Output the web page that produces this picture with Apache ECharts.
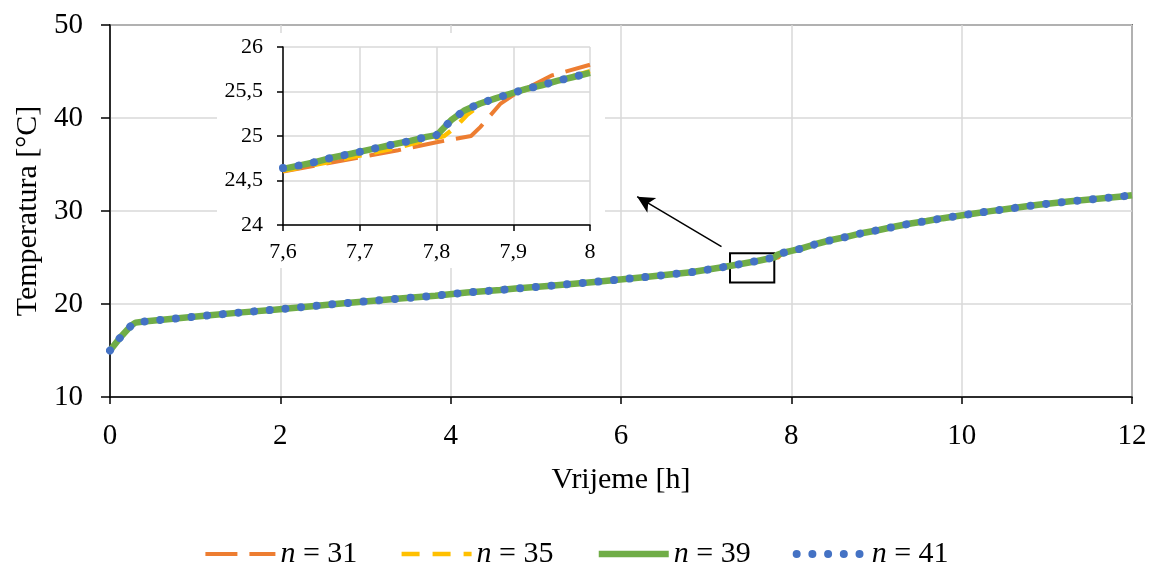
<!DOCTYPE html>
<html>
<head>
<meta charset="utf-8">
<script src="https://cdn.jsdelivr.net/npm/echarts@6/dist/echarts.min.js"></script>
<style>
html,body{margin:0;padding:0;background:#fff;}
#chart{width:1152px;height:568px;}
</style>
</head>
<body>
<div id="chart"></div>
<script>
// ---- Data ----
const seriesNames = ['n = 31', 'n = 35', 'n = 39', 'n = 41'];

// Common main curve (all four runs coincide outside 7.6–8 h)
const timeMain = [0, 0.12, 0.25, 0.3, 0.43, 0.8, 1.17, 1.55, 1.93, 2.31, 2.68, 3.06, 3.44, 3.82, 4.19, 4.58, 4.76, 5.14, 5.69, 6.26, 6.82, 7.19, 7.39,
  8.12, 8.29, 8.47, 8.66, 8.84, 9.03, 9.22, 9.40, 9.59, 9.78, 9.97, 10.15, 10.34, 10.53, 10.72, 10.9, 11.09, 11.28, 11.47, 11.66, 11.85, 12.0];
const tempMain = [15.0, 16.4, 17.7, 18.0, 18.15, 18.46, 18.78, 19.1, 19.39, 19.71, 20.03, 20.32, 20.61, 20.89, 21.24, 21.5, 21.66, 21.94, 22.37, 22.87, 23.41, 23.95, 24.27,
  25.97, 26.45, 26.88, 27.24, 27.64, 27.96, 28.33, 28.65, 28.92, 29.23, 29.49, 29.74, 29.99, 30.22, 30.45, 30.67, 30.86, 31.04, 31.2, 31.38, 31.54, 31.69];

// Detail 7.6–8 h for each run
const timeN31 = [7.6, 7.65, 7.7, 7.75, 7.8, 7.845, 7.857, 7.87, 7.883, 7.9, 7.95, 8.0];
const tempN31 = [24.6, 24.68, 24.76, 24.84, 24.93, 25.0, 25.1, 25.23, 25.36, 25.46, 25.68, 25.8];

const timeN35 = [7.6, 7.65, 7.7, 7.75, 7.78, 7.81, 7.825, 7.84, 7.862, 7.88, 7.9, 7.95, 8.0];
const tempN35 = [24.61, 24.69, 24.78, 24.87, 24.94, 25.0, 25.1, 25.24, 25.38, 25.43, 25.48, 25.6, 25.73];

const timeN39 = [7.6, 7.622, 7.643, 7.663, 7.683, 7.704, 7.725, 7.746, 7.766, 7.787, 7.8, 7.805, 7.82, 7.837, 7.857, 7.876, 7.896, 7.917, 7.937, 7.957, 7.977, 8.0];
const tempN39 = [24.63, 24.67, 24.71, 24.755, 24.79, 24.83, 24.87, 24.91, 24.945, 24.99, 25.01, 25.05, 25.185, 25.29, 25.365, 25.42, 25.475, 25.53, 25.57, 25.62, 25.66, 25.71];

const timeN41 = timeN39.slice();
const tempN41 = [24.64, 24.67, 24.71, 24.755, 24.79, 24.83, 24.87, 24.91, 24.945, 24.99, 25.01, 25.05, 25.185, 25.29, 25.365, 25.42, 25.475, 25.53, 25.57, 25.62, 25.66, 25.71];

// Main axis ticks / inset axis ranges
const mainX = {min: 0, max: 12, interval: 2};
const mainY = {min: 10, max: 50, interval: 10};
const insetX = {min: 7.6, max: 8, interval: 0.1};
const insetY = {min: 24, max: 26, interval: 0.5};

// Annotation: zoom box and arrow (data coordinates)
const zoomBox = [[7.28, 25.45], [7.8, 22.3]];
const arrowLine = [[7.18, 26.16], [6.19, 31.54]];

// ---- Build ----
function pairs(t, v) { return t.map((x, i) => [x, v[i]]); }
function mergeMain(tDetail, vDetail) {
  const base = pairs(timeMain, tempMain).filter(p => p[0] < insetX.min || p[0] > insetX.max);
  return base.concat(pairs(tDetail, vDetail)).sort((a, b) => a[0] - b[0]);
}
const detail = [[timeN31, tempN31], [timeN35, tempN35], [timeN39, tempN39], [timeN41, tempN41]];

const FONT = 'Liberation Serif';
const styles = [
  {color: '#ED7D31', width: 4, type: [32, 12], cap: 'butt'},
  {color: '#FFC000', width: 4.5, type: [18, 13], cap: 'butt'},
  {color: '#70AD47', width: 6.5, type: 'solid', cap: 'butt'},
  {color: '#4472C4', width: 8, type: [0.01, 15.7], cap: 'round'}
];

function lineStyleOf(i) {
  return {color: styles[i].color, width: styles[i].width, type: styles[i].type, cap: styles[i].cap, join: 'round', opacity: 1};
}

const series = [];
seriesNames.forEach((name, i) => {
  const s = {
    name: name, type: 'line', xAxisIndex: 0, yAxisIndex: 0,
    data: mergeMain(detail[i][0], detail[i][1]),
    symbol: 'none', showSymbol: false, smooth: false,
    color: styles[i].color,
    lineStyle: lineStyleOf(i),
    z: 2 + i, animation: false
  };
  if (i === 3) {
    s.markArea = {
      silent: true,
      itemStyle: {color: 'rgba(0,0,0,0)', borderColor: '#000', borderWidth: 2},
      data: [[{coord: zoomBox[0]}, {coord: zoomBox[1]}]]
    };
    s.markLine = {
      silent: true, symbol: ['none', 'arrow'], symbolSize: [13, 17],
      label: {show: false},
      lineStyle: {color: '#000', width: 1.5, type: 'solid'},
      data: [[{coord: arrowLine[0]}, {coord: arrowLine[1]}]]
    };
  }
  series.push(s);
});
seriesNames.forEach((name, i) => {
  series.push({
    name: name, type: 'line', xAxisIndex: 1, yAxisIndex: 1,
    data: pairs(detail[i][0], detail[i][1]),
    symbol: 'none', showSymbol: false, smooth: false,
    color: styles[i].color,
    lineStyle: lineStyleOf(i),
    z: 10 + i, animation: false, clip: true
  });
});

function commaFmt(v) { return String(Math.round(v * 10) / 10).replace('.', ','); }

const option = {
  animation: false,
  backgroundColor: '#fff',
  textStyle: {fontFamily: FONT, color: '#000'},
  grid: [
    {left: 110, right: 20, top: 25, bottom: 171, show: true, borderColor: '#000', borderWidth: 1.5, backgroundColor: 'transparent'},
    {left: 283, right: 562, top: 47, bottom: 343}
  ],
  graphic: [{
    type: 'rect', z: 7, silent: true,
    shape: {x: 217, y: 33, width: 388, height: 235},
    style: {fill: '#fff'}
  }],
  xAxis: [
    {type: 'value', gridIndex: 0, min: mainX.min, max: mainX.max, interval: mainX.interval,
     name: 'Vrijeme [h]', nameLocation: 'middle', nameGap: 68,
     nameTextStyle: {fontFamily: FONT, fontSize: 30, color: '#000'},
     axisLine: {show: true, onZero: false, lineStyle: {color: '#000', width: 1.5}},
     axisTick: {show: true, length: 7, lineStyle: {color: '#000', width: 1.5}},
     axisLabel: {fontFamily: FONT, fontSize: 29, color: '#000', margin: 25},
     splitLine: {show: true, lineStyle: {color: '#d9d9d9', width: 1.5}}},
    {type: 'value', gridIndex: 1, min: insetX.min, max: insetX.max, interval: insetX.interval, z: 9,
     axisLine: {show: true, onZero: false, lineStyle: {color: '#000', width: 1.5}},
     axisTick: {show: true, length: 6, lineStyle: {color: '#000', width: 1.5}},
     axisLabel: {fontFamily: FONT, fontSize: 22, color: '#000', margin: 16, formatter: commaFmt},
     splitLine: {show: true, lineStyle: {color: '#d9d9d9', width: 1.5}}}
  ],
  yAxis: [
    {type: 'value', gridIndex: 0, min: mainY.min, max: mainY.max, interval: mainY.interval,
     name: 'Temperatura [°C]', nameLocation: 'middle', nameGap: 67, nameRotate: 90,
     nameTextStyle: {fontFamily: FONT, fontSize: 30, color: '#000'},
     axisLine: {show: true, onZero: false, lineStyle: {color: '#000', width: 1.5}},
     axisTick: {show: true, length: 9, lineStyle: {color: '#000', width: 1.5}},
     axisLabel: {fontFamily: FONT, fontSize: 29, color: '#000', margin: 27},
     splitLine: {show: true, lineStyle: {color: '#d9d9d9', width: 1.5}}},
    {type: 'value', gridIndex: 1, min: insetY.min, max: insetY.max, interval: insetY.interval, z: 9,
     axisLine: {show: true, onZero: false, lineStyle: {color: '#000', width: 1.5}},
     axisTick: {show: true, length: 6, lineStyle: {color: '#000', width: 1.5}},
     axisLabel: {fontFamily: FONT, fontSize: 22, color: '#000', margin: 20, formatter: commaFmt},
     splitLine: {show: true, lineStyle: {color: '#d9d9d9', width: 1.5}}}
  ],
  legend: {
    data: seriesNames.map((n, i) => ({
      name: n,
      lineStyle: lineStyleOf(i),
      itemStyle: {color: 'rgba(0,0,0,0)', borderWidth: 0, opacity: 0}
    })),
    left: 'center', top: 534,
    itemWidth: 70, itemHeight: 24, itemGap: 42,
    textStyle: {fontFamily: FONT, fontSize: 30, color: '#000',
      rich: {
        i: {fontFamily: FONT, fontStyle: 'italic', fontSize: 30, color: '#000'},
        t: {fontFamily: FONT, fontSize: 30, color: '#000'}
      }},
    formatter: function (name) { return '{i|n}{t|' + name.slice(1) + '}'; }
  },
  series: series
};

const chart = echarts.init(document.getElementById('chart'), null, {renderer: 'canvas'});
chart.setOption(option);
</script>
</body>
</html>
